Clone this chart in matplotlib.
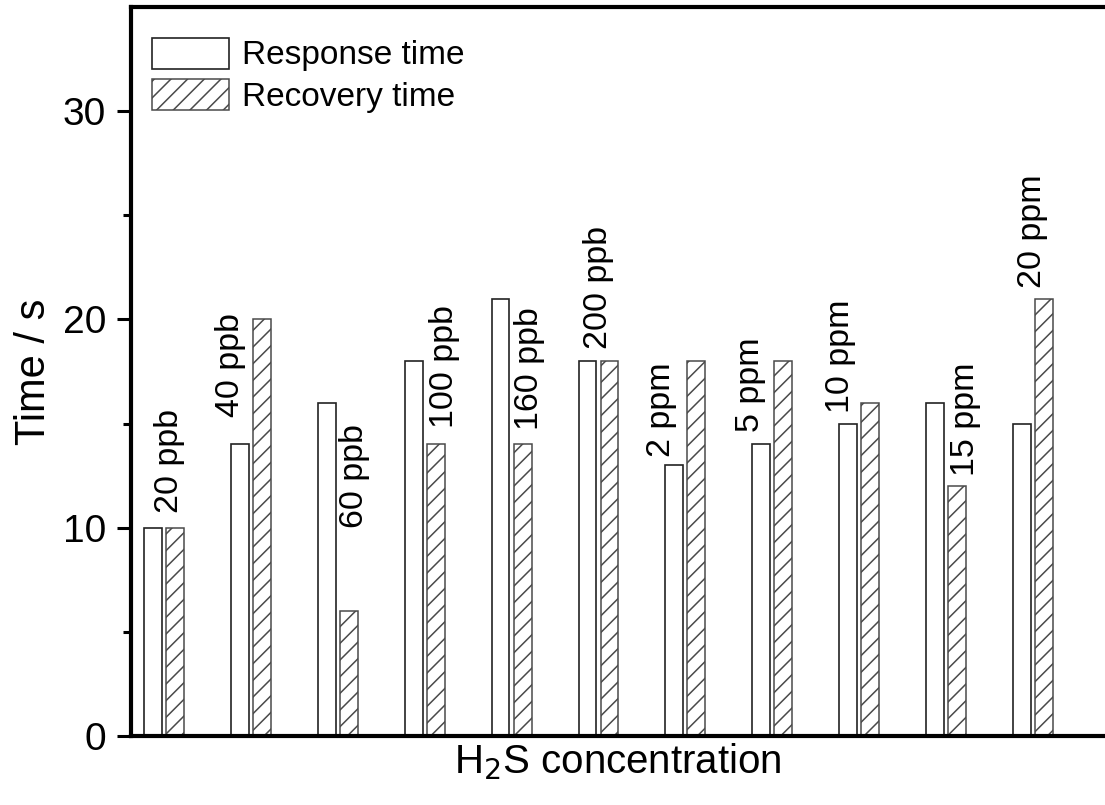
import numpy as np
import matplotlib.pyplot as plt

plt.rcParams['font.family'] = ['Liberation Sans', 'DejaVu Sans']
plt.rcParams['hatch.linewidth'] = 1.1

labels = ['20 ppb', '40 ppb', '60 ppb', '100 ppb', '160 ppb', '200 ppb',
          '2 ppm', '5 ppm', '10 ppm', '15 ppm', '20 ppm']
response = [10, 14, 16, 18, 21, 18, 13, 14, 15, 16, 15]
recovery = [10, 20, 6, 14, 14, 18, 18, 18, 16, 12, 21]

# where each concentration tag sits: x shift from group centre, baseline height
tag_dx = [0.06, -0.24, 0.19, 0.23, 0.21, 0.0, -0.27, -0.25, -0.22, 0.22, 0.0]
tag_y = [10.7, 15.3, 10.0, 14.8, 14.7, 18.6, 13.4, 14.6, 15.5, 12.5, 21.5]

x = np.arange(1, len(labels) + 1)
w = 0.205

fig = plt.figure(figsize=(11.05, 8.05), dpi=100)
ax = fig.add_axes([0.1186, 0.0857, 0.8814, 0.9056])

ax.bar(x - 0.127, response, w, color='white', edgecolor='#222222',
       linewidth=1.2, label='Response time')
ax.bar(x + 0.127, recovery, w, color='white', edgecolor='#4a4a4a',
       linewidth=1.1, hatch='//', label='Recovery time')

for xi, dx, ty, t in zip(x, tag_dx, tag_y, labels):
    ax.text(xi + dx, ty, t, rotation=90, ha='center', va='bottom', fontsize=24.5)

ax.set_xlim(0.62, 11.83)
ax.set_ylim(0, 35)
ax.set_xticks([])
ax.set_yticks([0, 10, 20, 30])
ax.set_yticks([5, 15, 25], minor=True)
ax.tick_params(axis='y', which='major', length=10, width=2.2, labelsize=28, pad=8)
ax.tick_params(axis='y', which='minor', length=6, width=2.2)

for s in ['left', 'bottom', 'top']:
    ax.spines[s].set_linewidth(3)
ax.spines['right'].set_visible(False)

ax.set_ylabel('Time / s', fontsize=30, labelpad=6)
ax.set_xlabel(r'H$_2$S concentration', fontsize=29, labelpad=4)

ax.legend(loc='upper left', bbox_to_anchor=(0.022, 0.958), frameon=False,
          fontsize=24, handlelength=2.3, handleheight=1.05,
          handletextpad=0.39, labelspacing=0.22, borderaxespad=0, borderpad=0)

fig.savefig('out.png', dpi=100)
